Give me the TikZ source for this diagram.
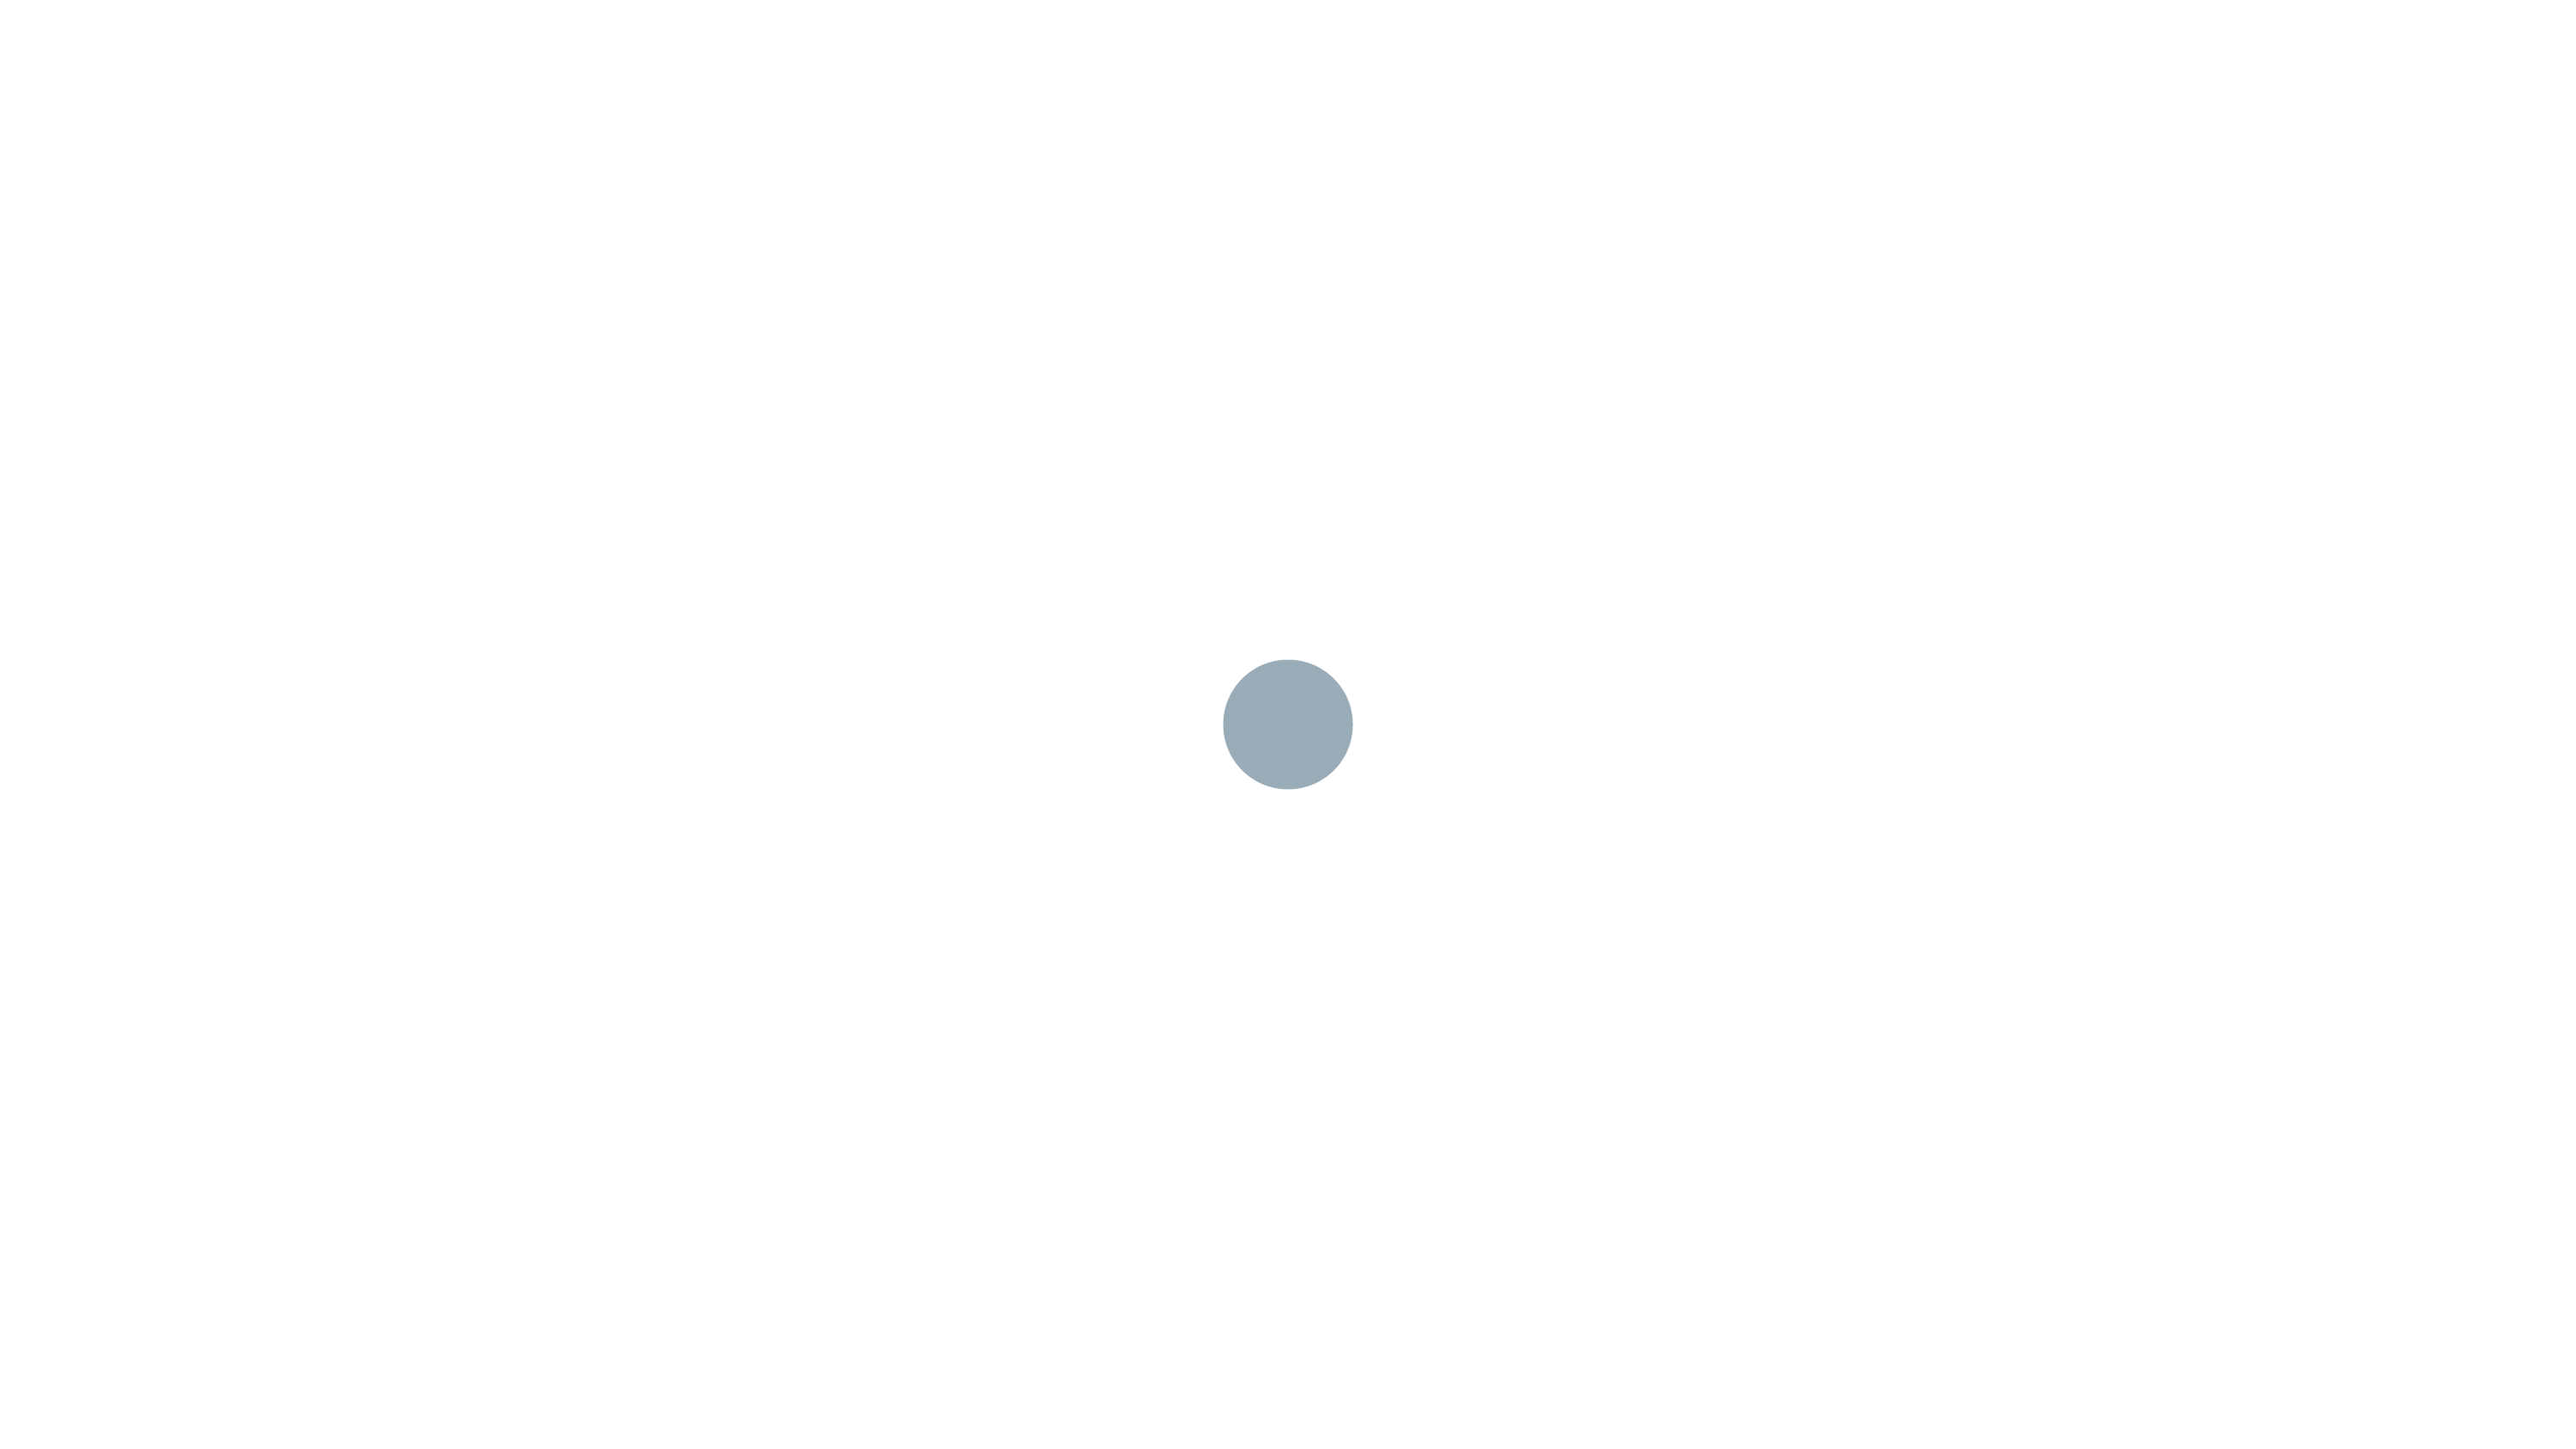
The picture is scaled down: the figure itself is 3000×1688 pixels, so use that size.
\documentclass[tikz,border=0pt]{standalone}
\begin{document}
\begin{tikzpicture}[x=0.01cm,y=-0.01cm]
\definecolor{dotgray}{HTML}{9AACB8}
\tikzset{dotstyle/.style={circle,fill=dotgray,draw=none,minimum size=151\pgflinewidth,inner sep=0pt}}
\useasboundingbox[fill=white] (0,0) rectangle (3000,1688);
\fill[dotgray] (1500,844) circle[radius=75.5];
\coordinate (dot) at (1500,844);
\end{tikzpicture}
\end{document}
